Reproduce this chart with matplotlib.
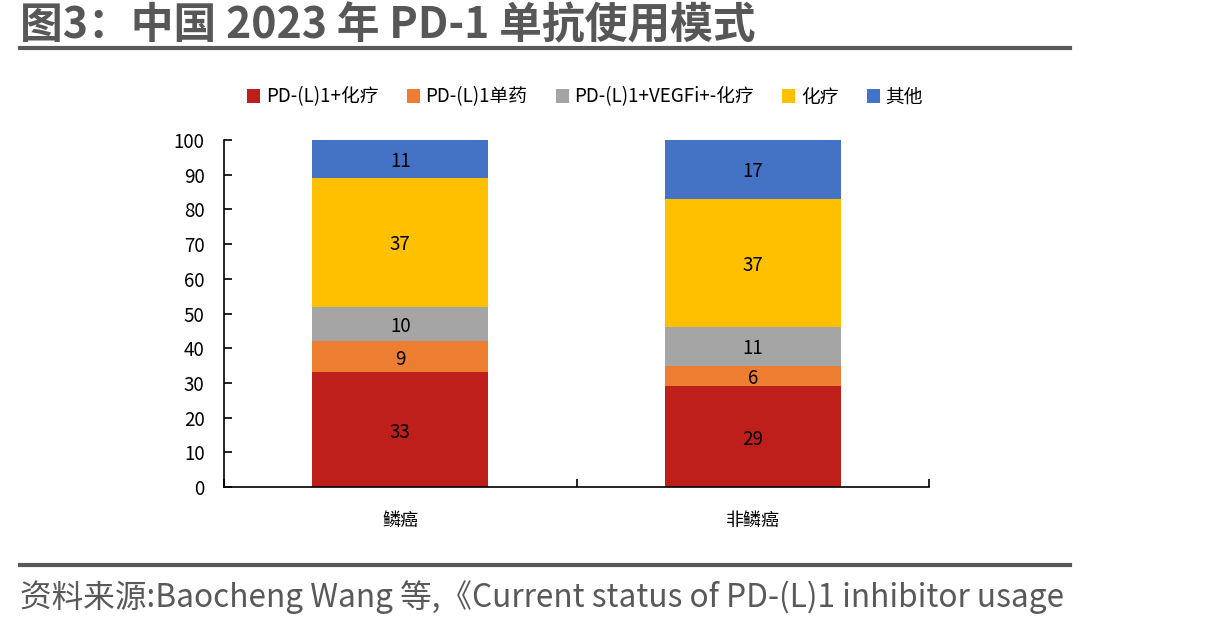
import matplotlib.pyplot as plt
import numpy as np

plt.rcParams['font.family'] = ['Noto Sans CJK SC', 'DejaVu Sans']

categories = ['鳞癌', '非鳞癌']
series_names = ['PD-(L)1+化疗', 'PD-(L)1单药', 'PD-(L)1+VEGFi+-化疗', '化疗', '其他']
pd1_chemo = [33, 29]
pd1_mono = [9, 6]
pd1_vegfi = [10, 11]
chemo = [37, 37]
other = [11, 17]
colors = ['#BF1F1A', '#ED7D31', '#A5A5A5', '#FFC000', '#4472C4']

title = '图3：中国 2023 年 PD-1 单抗使用模式'
source = '资料来源:Baocheng Wang 等,《Current status of PD-(L)1 inhibitor usage'

fig = plt.figure(figsize=(12.17, 6.27), dpi=100)
ax = fig.add_axes([224 / 1217, 1 - 487 / 627, (929 - 224) / 1217, (487 - 140) / 627])

x = np.arange(len(categories))
bottom = np.zeros(len(categories))
for name, vals, c in zip(series_names, [pd1_chemo, pd1_mono, pd1_vegfi, chemo, other], colors):
    vals = np.array(vals, dtype=float)
    ax.bar(x, vals, 0.5, bottom=bottom, color=c, label=name)
    for xi, b, v in zip(x, bottom, vals):
        ax.text(xi, b + v / 2, f'{v:.0f}', ha='center', va='center_baseline', fontsize=13.5, color='black')
    bottom += vals

ax.set_xlim(-0.5, 1.5)
ax.set_ylim(0, 100)
ax.set_yticks(range(0, 101, 10))
ax.set_xticks([-0.5, 0.5, 1.5])
ax.set_xticklabels([])
ax.set_xticks(x, minor=True)
ax.set_xticklabels(categories, minor=True, fontsize=13)
ax.tick_params(axis='x', which='minor', length=0, pad=18)
ax.tick_params(axis='x', which='major', direction='in', length=6, width=1.2)
ax.tick_params(axis='y', direction='in', length=6, width=1.2, labelsize=13.5, pad=14)
for s in ['top', 'right']:
    ax.spines[s].set_visible(False)
for s in ['left', 'bottom']:
    ax.spines[s].set_linewidth(1.2)

fig.legend(loc='center', bbox_to_anchor=(585 / 1217, 1 - 97 / 627), ncol=5, frameon=False,
           fontsize=13.5, handlelength=0.7, handleheight=0.7, handletextpad=0.3, columnspacing=1.5)

fig.text(20 / 1217, 1 - 25 / 627, title, fontsize=30.8, fontweight='bold', color='#575757',
         ha='left', va='center')
fig.add_artist(plt.Line2D([20 / 1217, 1070 / 1217], [1 - 48 / 627] * 2, color='#595959', lw=3))
fig.add_artist(plt.Line2D([20 / 1217, 1070 / 1217], [1 - 565 / 627] * 2, color='#595959', lw=3))
fig.text(20 / 1217, 1 - 597 / 627, source, fontsize=22.8, color='#595959', ha='left', va='center')

fig.savefig('out.png', dpi=100)
